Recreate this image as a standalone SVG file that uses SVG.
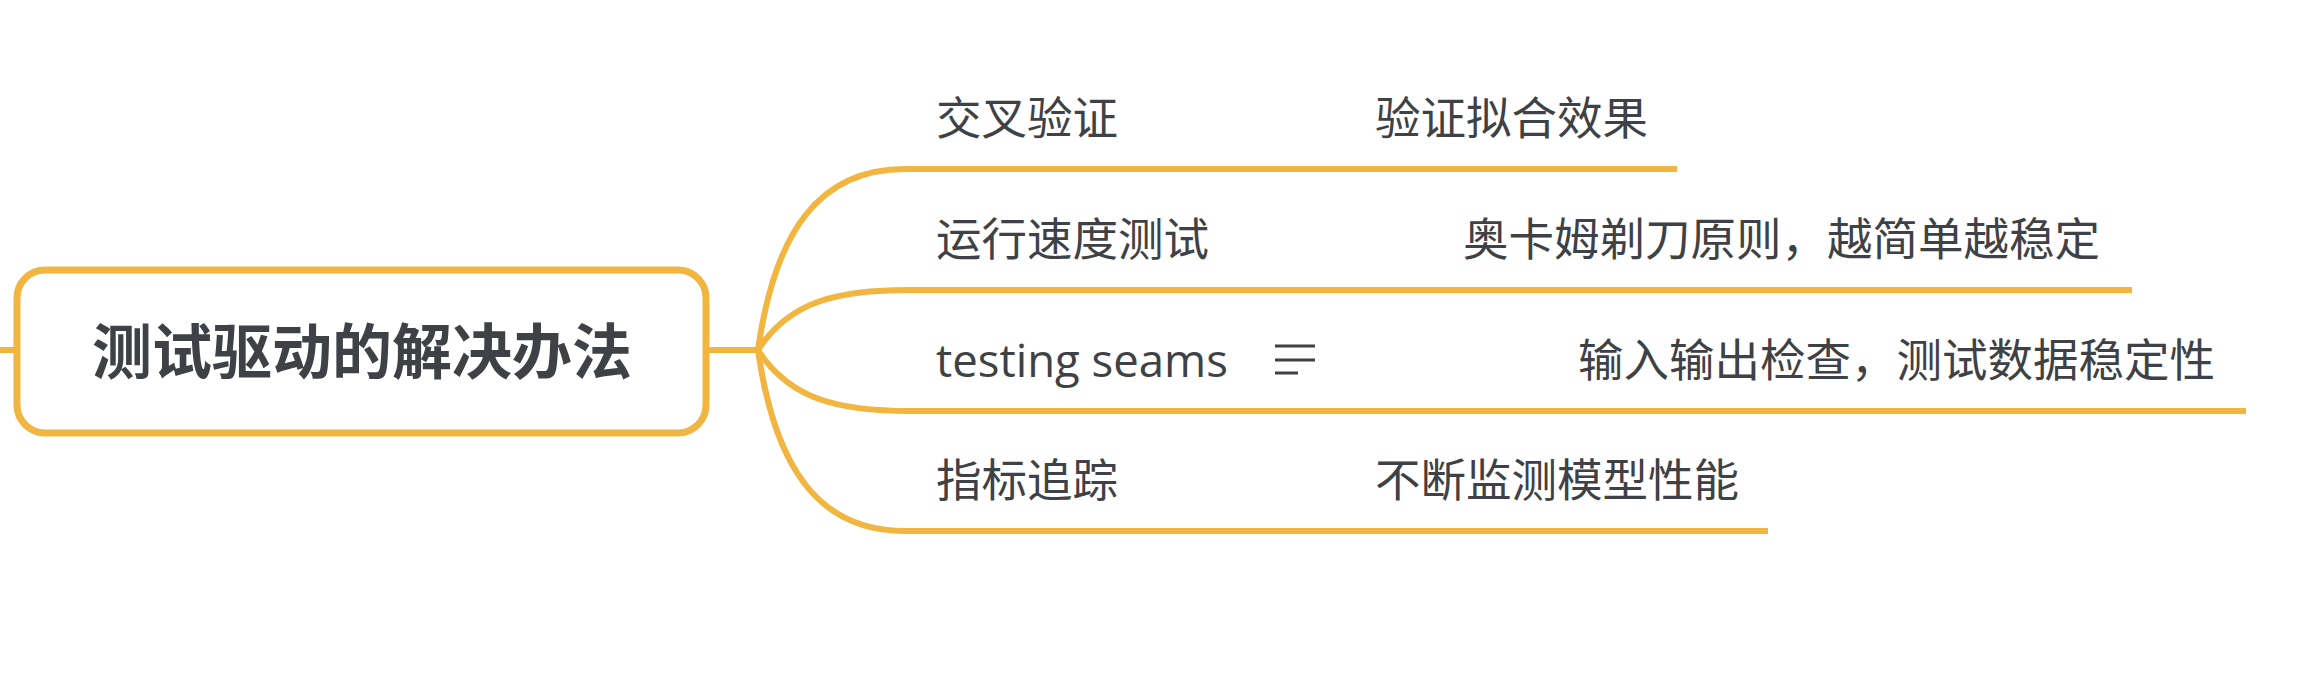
<svg xmlns="http://www.w3.org/2000/svg" width="2301" height="687" viewBox="0 0 2301 687">
<style>
.br{fill:none;stroke:#F1B540;stroke-width:6;stroke-linecap:butt}
.t{font-family:"Open Sans","Noto Sans CJK SC",sans-serif;font-size:45.5px;fill:#3e4145}
.title{font-family:"Noto Sans CJK SC",sans-serif;font-size:60px;font-weight:bold;fill:#3e4247}
.ic{stroke:#3e4145;stroke-width:3}
</style>
<rect width="2301" height="687" fill="#ffffff"/>
<g id="connectors">
<path class="br" d="M0,350 H17"/>
<path class="br" d="M706,350 H758"/>
<path class="br" d="M758,350 C775,230 820,169 905,169 H1677"/>
<path class="br" d="M758,350 C790,300 840,290 910,290 H2132"/>
<path class="br" d="M758,350 C790,400 840,411 910,411 H2246"/>
<path class="br" d="M758,350 C775,470 820,531 905,531 H1768"/>
</g>
<g id="root">
<rect x="17" y="270" width="689" height="163" rx="28" fill="#ffffff" stroke="#F1B540" stroke-width="7"/>
<text class="title" x="362" y="374" text-anchor="middle">测试驱动的解决办法</text>
</g>
<g id="n1">
<text class="t" x="936" y="135">交叉验证</text>
<text class="t" x="1375" y="135">验证拟合效果</text>
</g>
<g id="n2">
<text class="t" x="936" y="256">运行速度测试</text>
<text class="t" x="1463" y="256">奥卡姆剃刀原则，越简单越稳定</text>
</g>
<g id="n3">
<text class="t" x="936" y="377">testing seams</text>
<g id="n3-note">
<line class="ic" x1="1275" y1="346" x2="1315" y2="346"/>
<line class="ic" x1="1275" y1="360" x2="1315" y2="360"/>
<line class="ic" x1="1275" y1="373" x2="1298" y2="373"/>
</g>
<text class="t" x="1578" y="377">输入输出检查，测试数据稳定性</text>
</g>
<g id="n4">
<text class="t" x="936" y="497">指标追踪</text>
<text class="t" x="1375" y="497">不断监测模型性能</text>
</g>
</svg>
